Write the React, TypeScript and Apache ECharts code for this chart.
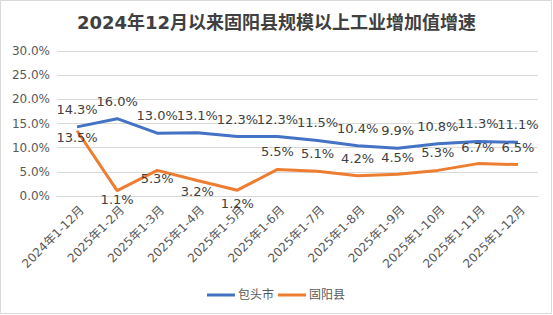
import React, { useEffect, useRef } from "react";
import * as echarts from "echarts";

const categories = [
  "2024年1-12月", "2025年1-2月", "2025年1-3月", "2025年1-4月", "2025年1-5月", "2025年1-6月",
  "2025年1-7月", "2025年1-8月", "2025年1-9月", "2025年1-10月", "2025年1-11月", "2025年1-12月",
];
const baotou = [14.3, 16.0, 13.0, 13.1, 12.3, 12.3, 11.5, 10.4, 9.9, 10.8, 11.3, 11.1];
const guyang = [13.5, 1.1, 5.3, 3.2, 1.2, 5.5, 5.1, 4.2, 4.5, 5.3, 6.7, 6.5];
// label placement for 固阳县 points: [position, distance]
const guyangLabelPos: [string, number][] = [
  ["bottom", 0], ["bottom", 2], ["bottom", 2], ["bottom", 4], ["bottom", 7], ["top", 11],
  ["top", 11], ["top", 11], ["top", 10], ["top", 11], ["top", 10], ["top", 11],
];
const yTicks = { min: 0, max: 30, interval: 5 };

const FONT = "'DejaVu Sans', 'Noto Sans CJK SC', sans-serif";
const GRAY = "#595959";

export default function App() {
  const ref = useRef<HTMLDivElement>(null);
  useEffect(() => {
    if (!ref.current) return;
    const chart = echarts.init(ref.current, null, { renderer: "svg" });
    chart.setOption({
      animation: false,
      backgroundColor: "#ffffff",
      title: {
        text: "2024年12月以来固阳县规模以上工业增加值增速",
        left: "center",
        top: 8,
        textStyle: { fontSize: 18, fontWeight: "bold", color: "#404040", fontFamily: FONT },
      },
      graphic: [
        {
          type: "rect",
          shape: { x: 0.5, y: 0.5, width: 551, height: 313 },
          style: { fill: "none", stroke: "#d9d9d9", lineWidth: 1 },
          silent: true,
        },
      ],
      legend: {
        bottom: 9,
        left: 202,
        icon: "rect",
        itemWidth: 28,
        itemHeight: 3,
        itemGap: 4,
        textStyle: { fontSize: 12, color: GRAY, fontFamily: FONT, padding: [0, 0, 0, -2] },
        data: ["包头市", "固阳县"],
      },
      grid: { left: 57, right: 15, top: 51, bottom: 119 },
      xAxis: {
        type: "category",
        data: categories,
        boundaryGap: true,
        axisLine: { lineStyle: { color: "#d9d9d9" } },
        axisTick: { show: false },
        axisLabel: {
          rotate: 45,
          fontSize: 12,
          color: GRAY,
          fontFamily: FONT,
          margin: 17,
          padding: [0, -7, 0, 0],
          interval: 0,
        },
      },
      yAxis: {
        type: "value",
        min: yTicks.min,
        max: yTicks.max,
        interval: yTicks.interval,
        axisLine: { show: false },
        axisTick: { show: false },
        splitLine: { lineStyle: { color: "#d9d9d9" } },
        axisLabel: {
          fontSize: 12,
          color: GRAY,
          fontFamily: FONT,
          margin: 7,
          formatter: (v: number) => `${v.toFixed(1)}%`,
        },
      },
      series: [
        {
          name: "包头市",
          type: "line",
          data: baotou,
          showSymbol: true,
          symbol: "circle",
          symbolSize: 0,
          lineStyle: { color: "#4472C4", width: 3 },
          itemStyle: { color: "#4472C4" },
          label: {
            show: true,
            position: "top",
            distance: 11,
            fontSize: 13,
            color: "#404040",
            fontFamily: FONT,
            formatter: (p: any) => `${Number(p.value).toFixed(1)}%`,
          },
        },
        {
          name: "固阳县",
          type: "line",
          data: guyang.map((v, i) => ({
            value: v,
            label: { position: guyangLabelPos[i][0], distance: guyangLabelPos[i][1] },
          })),
          showSymbol: true,
          symbol: "circle",
          symbolSize: 0,
          lineStyle: { color: "#ED7D31", width: 3 },
          itemStyle: { color: "#ED7D31" },
          label: {
            show: true,
            fontSize: 13,
            color: "#404040",
            fontFamily: FONT,
            formatter: (p: any) => `${Number(p.value).toFixed(1)}%`,
          },
        },
      ],
    });
    return () => chart.dispose();
  }, []);
  return (
    <div
      ref={ref}
      style={{ position: "fixed", left: 0, top: 0, width: 553, height: 315 }}
    />
  );
}
